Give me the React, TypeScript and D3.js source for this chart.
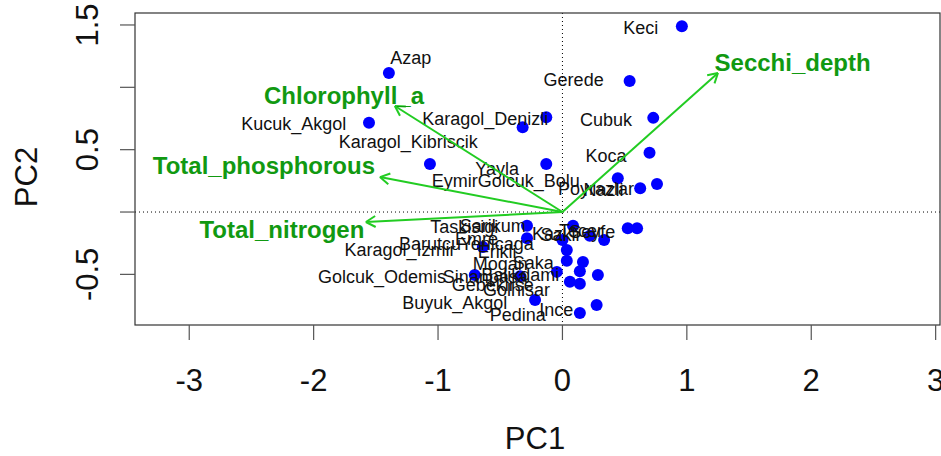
import React, { useRef, useEffect } from "react";
import * as d3 from "d3";

// PCA scores (blue points)
const scorePC1 = [
  0.96, 0.54, -1.395, -1.555, -0.13, -0.32, 0.73, 0.7, -1.065, -0.13, 0.445,
  0.625, 0.76, -0.285, -0.285, 0.085, 0.22, 0.335, 0.525, 0.6, -0.64, 0.035,
  0.035, 0.165, 0.14, 0.285, 0.06, 0.14, -0.045, -0.705, -0.34, -0.22, 0.275,
  0.14, 0.0,
];
const scorePC2 = [
  1.49, 1.05, 1.115, 0.715, 0.76, 0.68, 0.755, 0.475, 0.385, 0.385, 0.27,
  0.19, 0.225, -0.11, -0.21, -0.11, -0.19, -0.225, -0.13, -0.13, -0.28,
  -0.305, -0.39, -0.4, -0.475, -0.505, -0.56, -0.575, -0.48, -0.505, -0.515,
  -0.705, -0.745, -0.81, -0.225,
];

// lake names and where their labels sit (PC units)
const lakeNames = [
  "Keci", "Azap", "Gerede", "Kucuk_Akgol", "Karagol_Denizli", "Cubuk",
  "Karagol_Kibriscik", "Koca", "Yayla", "Eymir", "Golcuk_Bolu", "Poyrazlar",
  "Nazli", "Taskisigi", "Sarikum", "Kaz", "Sakli", "Tecer", "Seyfe", "Emre",
  "Barutcu", "Yenicaga", "Karagol_Izmir", "Erikli", "Mogan", "Saka",
  "Golcuk_Odemis", "Sinanpasa", "Balikdami", "Gebekirse", "Golhisar",
  "Buyuk_Akgol", "Pedina", "Ince",
];
const labelPC1 = [
  0.63, -1.22, 0.09, -2.16, -0.62, 0.35, -1.24, 0.35, -0.525, -0.865, -0.27,
  0.27, 0.33, -0.79, -0.56, -0.12, -0.02, 0.15, 0.24, -0.69, -1.065, -0.525,
  -1.305, -0.525, -0.5, -0.235, -1.45, -0.62, -0.34, -0.56, -0.37, -0.865,
  -0.36, -0.05,
];
const labelPC2 = [
  1.475, 1.235, 1.06, 0.705, 0.745, 0.74, 0.56, 0.455, 0.35, 0.25, 0.25,
  0.19, 0.175, -0.12, -0.11, -0.175, -0.185, -0.15, -0.16, -0.21, -0.255,
  -0.255, -0.305, -0.32, -0.415, -0.41, -0.515, -0.515, -0.5, -0.58, -0.62,
  -0.73, -0.82, -0.78,
];

// loadings (green arrows)
const variables = ["Secchi_depth", "Chlorophyll_a", "Total_phosphorous", "Total_nitrogen"];
const loadPC1 = [1.25, -1.347, -1.467, -1.58];
const loadPC2 = [1.115, 0.85, 0.28, -0.08];
const varLabelPC1 = [1.85, -1.756, -2.4, -2.255];
const varLabelPC2 = [1.2, 0.93, 0.37, -0.144];

const xTicks = [-3, -2, -1, 0, 1, 2, 3];
const yTicks = [1.5, 1, 0.5, 0, -0.5];
const yTickLabels = [1.5, 0.5, -0.5];

const FONT = "'Liberation Sans', Arial, sans-serif";

const App = () => {
  const ref = useRef(null);

  useEffect(() => {
    d3.select(ref.current).selectAll("*").remove();
    const width = 941;
    const height = 456;
    const left = 135, right = 940, top = 13, bottom = 325;

    const svg = d3.select(ref.current).attr("width", width).attr("height", height);

    const x = d3.scaleLinear().domain([-3.436, 3.035]).range([left, right]);
    const y = d3.scaleLinear().domain([1.596, -0.906]).range([top, bottom]);

    // dotted zero lines
    svg.append("line")
      .attr("x1", x(0)).attr("x2", x(0)).attr("y1", top).attr("y2", bottom)
      .attr("stroke", "#000").attr("stroke-width", 1).attr("stroke-dasharray", "1,3");
    svg.append("line")
      .attr("x1", left).attr("x2", right).attr("y1", y(0)).attr("y2", y(0))
      .attr("stroke", "#000").attr("stroke-width", 1).attr("stroke-dasharray", "1,3");

    // points
    svg.append("g")
      .selectAll("circle")
      .data(scorePC1.map((v, i) => [v, scorePC2[i]]))
      .enter()
      .append("circle")
      .attr("cx", (d: any) => x(d[0]))
      .attr("cy", (d: any) => y(d[1]))
      .attr("r", 6)
      .attr("fill", "#0000ff");

    // lake labels
    svg.append("g")
      .selectAll("text")
      .data(lakeNames)
      .enter()
      .append("text")
      .attr("x", (d: any, i: number) => x(labelPC1[i]))
      .attr("y", (d: any, i: number) => y(labelPC2[i]))
      .attr("dy", "0.35em")
      .attr("text-anchor", "middle")
      .attr("font-family", FONT)
      .attr("font-size", 18)
      .attr("fill", "#111")
      .text((d: any) => d);

    // arrows
    const arrows = svg.append("g").attr("stroke", "#22cc22").attr("stroke-width", 2).attr("fill", "none");
    variables.forEach((v, i) => {
      const x0 = x(0), y0 = y(0);
      const x1 = x(loadPC1[i]), y1 = y(loadPC2[i]);
      arrows.append("line").attr("x1", x0).attr("y1", y0).attr("x2", x1).attr("y2", y1);
      const ang = Math.atan2(y1 - y0, x1 - x0);
      const len = 11;
      [Math.PI / 6, -Math.PI / 6].forEach((a) => {
        arrows.append("line")
          .attr("x1", x1).attr("y1", y1)
          .attr("x2", x1 - len * Math.cos(ang + a))
          .attr("y2", y1 - len * Math.sin(ang + a));
      });
    });

    svg.append("g")
      .selectAll("text")
      .data(variables)
      .enter()
      .append("text")
      .attr("x", (d: any, i: number) => x(varLabelPC1[i]))
      .attr("y", (d: any, i: number) => y(varLabelPC2[i]))
      .attr("dy", "0.35em")
      .attr("text-anchor", "middle")
      .attr("font-family", FONT)
      .attr("font-weight", "bold")
      .attr("font-size", 24)
      .attr("fill", "#119911")
      .text((d: any) => d);

    // box
    svg.append("rect")
      .attr("x", left).attr("y", top).attr("width", right - left).attr("height", bottom - top)
      .attr("fill", "none").attr("stroke", "#333").attr("stroke-width", 1.2);

    // x axis
    const xa = svg.append("g");
    xa.selectAll("line").data(xTicks).enter().append("line")
      .attr("x1", (d: any) => x(d)).attr("x2", (d: any) => x(d))
      .attr("y1", bottom).attr("y2", bottom + 15)
      .attr("stroke", "#555").attr("stroke-width", 1.2);
    xa.selectAll("text").data(xTicks).enter().append("text")
      .attr("x", (d: any) => x(d)).attr("y", 391)
      .attr("text-anchor", "middle")
      .attr("font-family", FONT).attr("font-size", 31).attr("fill", "#111")
      .text((d: any) => String(d));
    svg.append("text")
      .attr("x", 535).attr("y", 449)
      .attr("text-anchor", "middle")
      .attr("font-family", FONT).attr("font-size", 31).attr("fill", "#111")
      .text("PC1");

    // y axis
    const ya = svg.append("g");
    ya.selectAll("line").data(yTicks).enter().append("line")
      .attr("x1", left - 15).attr("x2", left)
      .attr("y1", (d: any) => y(d)).attr("y2", (d: any) => y(d))
      .attr("stroke", "#555").attr("stroke-width", 1.2);
    ya.selectAll("text").data(yTickLabels).enter().append("text")
      .attr("transform", (d: any) => `translate(98, ${y(d)}) rotate(-90)`)
      .attr("text-anchor", "middle")
      .attr("font-family", FONT).attr("font-size", 31).attr("fill", "#111")
      .text((d: any) => String(d));
    svg.append("text")
      .attr("transform", "translate(37, 177) rotate(-90)")
      .attr("text-anchor", "middle")
      .attr("font-family", FONT).attr("font-size", 31).attr("fill", "#111")
      .text("PC2");
  }, []);

  return (
    <svg ref={ref} style={{ position: "absolute", left: 0, top: 0, background: "#fff" }}></svg>
  );
};

export default App;
